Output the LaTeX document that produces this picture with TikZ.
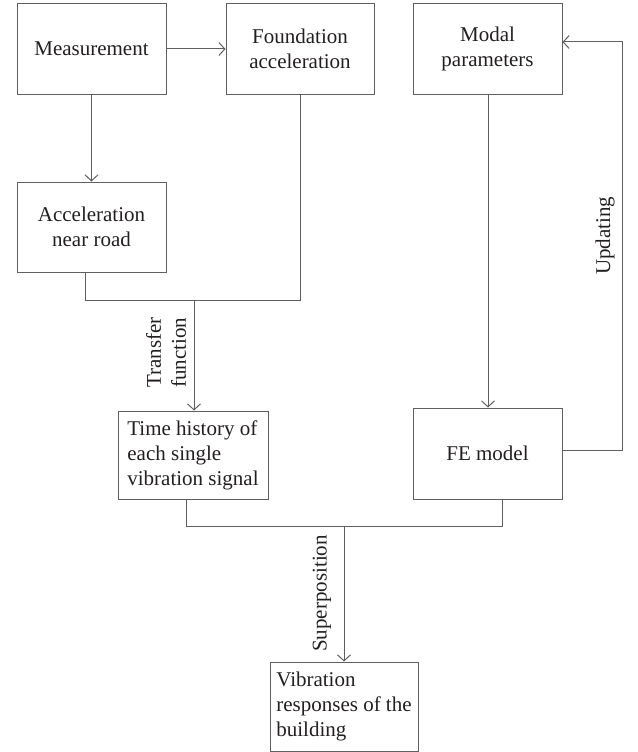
\documentclass[tikz,border=0pt]{standalone}
\usepackage{fontspec}
\setmainfont{Liberation Serif}
\usetikzlibrary{arrows.meta,calc}
\definecolor{linec}{RGB}{95,95,95}
\definecolor{textc}{RGB}{35,31,32}
\begin{document}
\begin{tikzpicture}[x=1pt,y=-1pt,
  box/.style={draw=linec,line width=1pt,inner sep=0pt,align=center,text=textc,
    font=\fontsize{21}{25}\selectfont},
  conn/.style={draw=linec,line width=1pt},
  arr/.style={conn,-{Straight Barb[length=6pt,width=13pt,line width=1pt]}},
  lbl/.style={rotate=90,anchor=west,align=left,inner sep=0pt,text=textc,
    font=\fontsize{21}{25}\selectfont}]
\useasboundingbox (0,0) rectangle (637,752);
\node[box,minimum width=149pt,minimum height=90pt] (meas) at (91.5,49) {Measurement};
\node[box,minimum width=148pt,minimum height=90pt] (found) at (300,49) {Foundation\\acceleration};
\node[box,minimum width=149pt,minimum height=90pt] (modal) at (487.5,49) {Modal\\parameters};
\node[box,minimum width=149pt,minimum height=90pt] (accel) at (91.5,227) {Acceleration\\near road};
\node[box,minimum width=150pt,minimum height=88pt,align=left] (time) at (193,455) {Time history of\\each single\\vibration signal};
\node[box,minimum width=149pt,minimum height=91pt] (fe) at (487.5,453.5) {FE model};
\node[box,minimum width=148pt,minimum height=89pt,align=left] (vib) at (344,706.5) {Vibration\\responses of the\\building};
\coordinate (j1) at (194,300);
\coordinate (j2) at (344,526);
\coordinate (u) at (622,42);
\draw[arr] (meas.east) -- (found.west);
\draw[arr] (meas.south) -- (accel.north);
\draw[conn] ([xshift=-6.5pt]accel.south) |- (j1);
\draw[conn] (found.south) |- (j1);
\draw[arr] (j1) -- (j1 |- time.north);
\draw[arr] ([xshift=0.5pt]modal.south) -- ([xshift=0.5pt]fe.north);
\draw[arr] ([yshift=3.5pt]fe.east) -| (u) -- (u -| modal.east);
\draw[conn] ([xshift=-7pt]time.south) |- (j2);
\draw[conn] ([xshift=14.5pt]fe.south) |- (j2);
\draw[arr] (j2) -- (vib.north);
\node[lbl] (ltf) at (166,388) {Transfer\\function};
\node[lbl] (lsup) at (322,652) {Superposition};
\node[lbl] (lupd) at (605,275) {Updating};
\end{tikzpicture}
\end{document}
